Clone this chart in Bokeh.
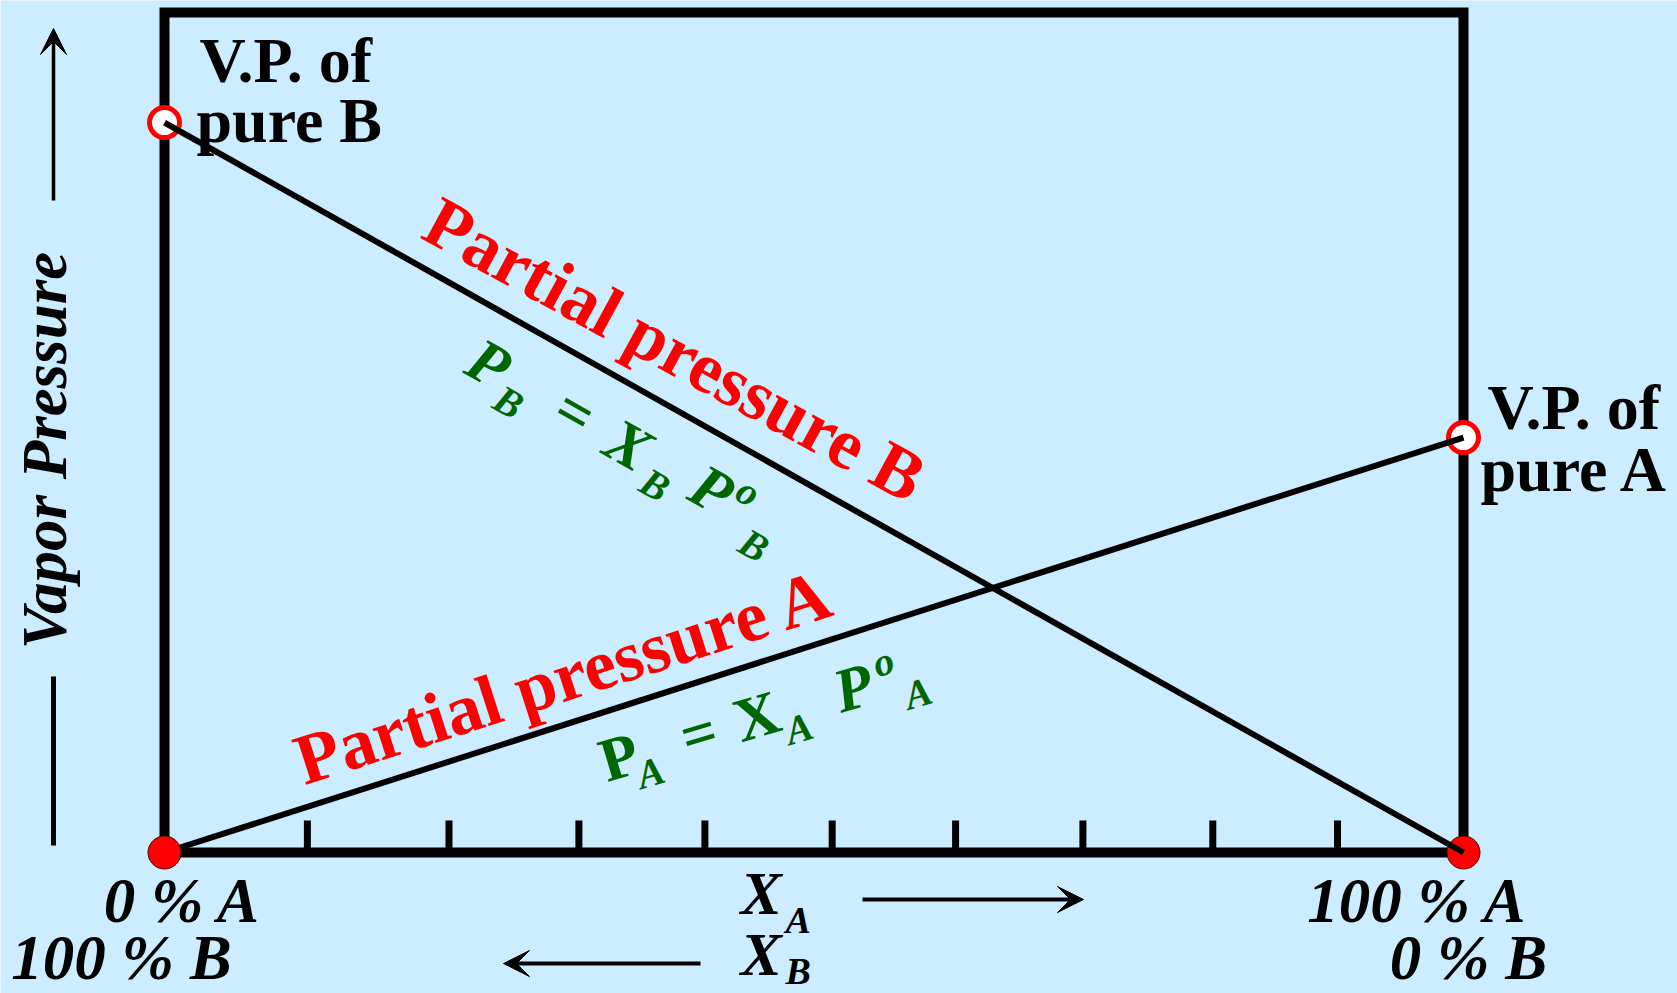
import math

from bokeh.core.properties import value
from bokeh.embed import file_html
from bokeh.models import Arrow, Range1d, VeeHead
from bokeh.plotting import figure
from bokeh.resources import INLINE

# ---- data -------------------------------------------------------------
# mole fraction of A at the two ends of the composition axis
x_ends = [0.0, 1.0]
# vapour pressures of the pure liquids (box height = 100 units)
p_pure_b = 86.9
p_pure_a = 49.4
box_top = 100.0
# composition scale ticks (mole fraction of A)
tick_x = [0.110, 0.219, 0.319, 0.416, 0.514, 0.609, 0.707, 0.807, 0.903]

# Raoult's law lines: partial pressure of A rises, of B falls
pa_line = [0.0, p_pure_a]
pb_line = [p_pure_b, 0.0]

# ---- layout -----------------------------------------------------------
W, H = 1677, 993
X0_PX, PX_PER_X = 164.0, 1299.0   # screen x of x=0, pixels per unit x
Y0_PX, PX_PER_Y = 852.0, 8.4      # screen y of y=0, pixels per unit y
BASELINE_FIX = 0.36               # lift (in em) so glyphs sit on the baseline

BG = "#CCECFF"
RED = "#FF0000"
GREEN = "#006600"
FONT = value("Liberation Serif")


def to_px(x, y):
    return X0_PX + x * PX_PER_X, Y0_PX - y * PX_PER_Y


def to_data(px, py):
    return (px - X0_PX) / PX_PER_X, (Y0_PX - py) / PX_PER_Y


def shifted(x, y, dx, dy):
    """Data point moved by (dx, dy) screen pixels (dy positive = down)."""
    px, py = to_px(x, y)
    return to_data(px + dx, py + dy)


def on_line(ys, t):
    return x_ends[0] + t * (x_ends[1] - x_ends[0]), ys[0] + t * (ys[1] - ys[0])


p = figure(
    width=W, height=H,
    x_range=Range1d(-X0_PX / PX_PER_X, (W - X0_PX) / PX_PER_X),
    y_range=Range1d(-(H - Y0_PX) / PX_PER_Y, Y0_PX / PX_PER_Y),
    x_axis_location=None, y_axis_location=None,
    min_border=0, toolbar_location=None, output_backend="svg",
    background_fill_color=BG, border_fill_color=BG, outline_line_color=None,
)
p.grid.visible = False


def label(x, y, text, size, color="black", style="bold", align="left", angle=0.0):
    # lift the anchor along the text's "up" direction so the alphabetic
    # baseline lands on (x, y)
    px, py = to_px(x, y)
    lift = BASELINE_FIX * size
    px += lift * -math.sin(angle)
    py += lift * -math.cos(angle)
    ax, ay = to_data(px, py)
    p.text(x=[ax], y=[ay], text=[text], angle=angle, text_font=FONT,
           text_font_size=f"{size}px", text_font_style=style,
           text_color=color, text_align=align, text_baseline="alphabetic")


# ---- frame and composition ticks -----------------------------------------
p.line(x=[x_ends[0], x_ends[1], x_ends[1], x_ends[0], x_ends[0]],
       y=[0, 0, box_top, box_top, 0], line_width=10, line_color="black",
       line_join="miter")
tick_len = 32 / PX_PER_Y
p.segment(x0=tick_x, y0=[0] * len(tick_x), x1=tick_x, y1=[tick_len] * len(tick_x),
          line_width=7, line_color="black")

# ---- pure-component markers and partial pressure lines -------------------
p.scatter(x=x_ends, y=[p_pure_b, p_pure_a], size=30, fill_color="white",
          line_color=RED, line_width=5)
p.scatter(x=[x_ends[1]], y=[0], size=33, fill_color=RED, line_color="#5a0000",
          line_width=1)
p.line(x=x_ends, y=pa_line, line_width=6, line_color="black")
p.line(x=x_ends, y=pb_line, line_width=6, line_color="black")
p.scatter(x=[x_ends[0]], y=[0], size=33, fill_color=RED, line_color="#5a0000",
          line_width=1)

# ---- pure-component captions ------------------------------------------
label(*shifted(x_ends[0], p_pure_b, 35, -39), "V.P. of", 64)
label(*shifted(x_ends[0], p_pure_b, 32, 21), "pure B", 64)
label(*shifted(x_ends[1], p_pure_a, 24, -7), "V.P. of", 64)
label(*shifted(x_ends[1], p_pure_a, 17, 55), "pure A", 64)

# ---- composition end labels ---------------------------------------------
label(*shifted(x_ends[0], 0, 18, 71), "0 % A", 63, style="bold italic", align="center")
label(*shifted(x_ends[0], 0, -43, 128), "100 % B", 63, style="bold italic", align="center")
label(*shifted(x_ends[1], 0, -46, 71), "100 % A", 63, style="bold italic", align="center")
label(*shifted(x_ends[1], 0, 5, 128), "0 % B", 63, style="bold italic", align="center")

# ---- mole fraction arrows under the axis --------------------------------
label(*to_data(740, 915), "X", 62, style="bold italic")
label(*to_data(785, 933), "A", 38, style="bold italic")
label(*to_data(740, 976), "X", 62, style="bold italic")
label(*to_data(785, 984), "B", 38, style="bold italic")

for (sx0, sy0), (sx1, sy1) in [((862, 899), (1083, 899)), ((700, 963), (503, 963))]:
    xs, ys = to_data(sx0, sy0)
    xe, ye = to_data(sx1, sy1)
    p.add_layout(Arrow(end=VeeHead(size=26, fill_color="black", line_color="black",
                                   line_width=1),
                       x_start=xs, y_start=ys, x_end=xe, y_end=ye,
                       line_width=4, line_color="black"))

# ---- vapour pressure axis caption ------------------------------------------
xs, ys = to_data(53, 200)
xe, ye = to_data(53, 28)
p.add_layout(Arrow(end=VeeHead(size=26, fill_color="black", line_color="black",
                               line_width=1),
                   x_start=xs, y_start=ys, x_end=xe, y_end=ye,
                   line_width=3.5, line_color="black"))
bx0, by0 = to_data(53, 676)
bx1, by1 = to_data(53, 845)
p.segment(x0=[bx0], y0=[by0], x1=[bx1], y1=[by1], line_width=5, line_color="black")
label(*to_data(67, 450), "Vapor Pressure", 63, style="bold italic", align="center",
      angle=math.pi / 2)

# ---- partial pressure captions along each line ----------------------------
label(*shifted(*on_line(pb_line, 0.3834), 0, -30), "Partial pressure B", 72,
      color=RED, align="center", angle=math.radians(-28.6))
label(*shifted(*on_line(pa_line, 0.314), 0, -21), "Partial pressure A", 72,
      color=RED, align="center", angle=math.radians(17.8))


def formula(origin, deg, pieces):
    """Lay out (text, u, v, size, style) pieces along a rotated baseline."""
    ox, oy = to_px(*origin)
    phi = math.radians(deg)           # screen angle, y pointing down
    d = (math.cos(phi), math.sin(phi))
    n = (-math.sin(phi), math.cos(phi))
    for text, u, v, size, style in pieces:
        px = ox + u * d[0] + v * n[0]
        py = oy + u * d[1] + v * n[1]
        label(*to_data(px, py), text, size, color=GREEN, style=style,
              angle=-phi)


BI, B = "bold italic", "bold"

# P_B = X_B P°_B
formula(shifted(*on_line(pb_line, 0.2286), 0, 84), 29.5, [
    ("P", 0, 0, 62, BI), ("B", 42, 16, 40, BI), ("=", 100, 0, 62, B),
    ("X", 160, 2, 62, BI), ("B", 210, 16, 40, BI), ("P", 256, 0, 62, BI),
    ("o", 298, -24, 40, BI), ("B", 326, 20, 40, BI),
])

# P_A = X_A P°_A
formula(shifted(*on_line(pa_line, 0.341), 0, 72.5), -16.5, [
    ("P", 0, 0, 62, B), ("A", 31, 16, 40, BI), ("=", 84, 0, 62, B),
    ("X", 140, 0, 62, B), ("A", 186, 16, 40, BI), ("P", 244, 0, 62, BI),
    ("o", 289, -24, 40, BI), ("A", 310, 16, 40, BI),
])

open("out.html", "w").write(file_html(p, INLINE))
